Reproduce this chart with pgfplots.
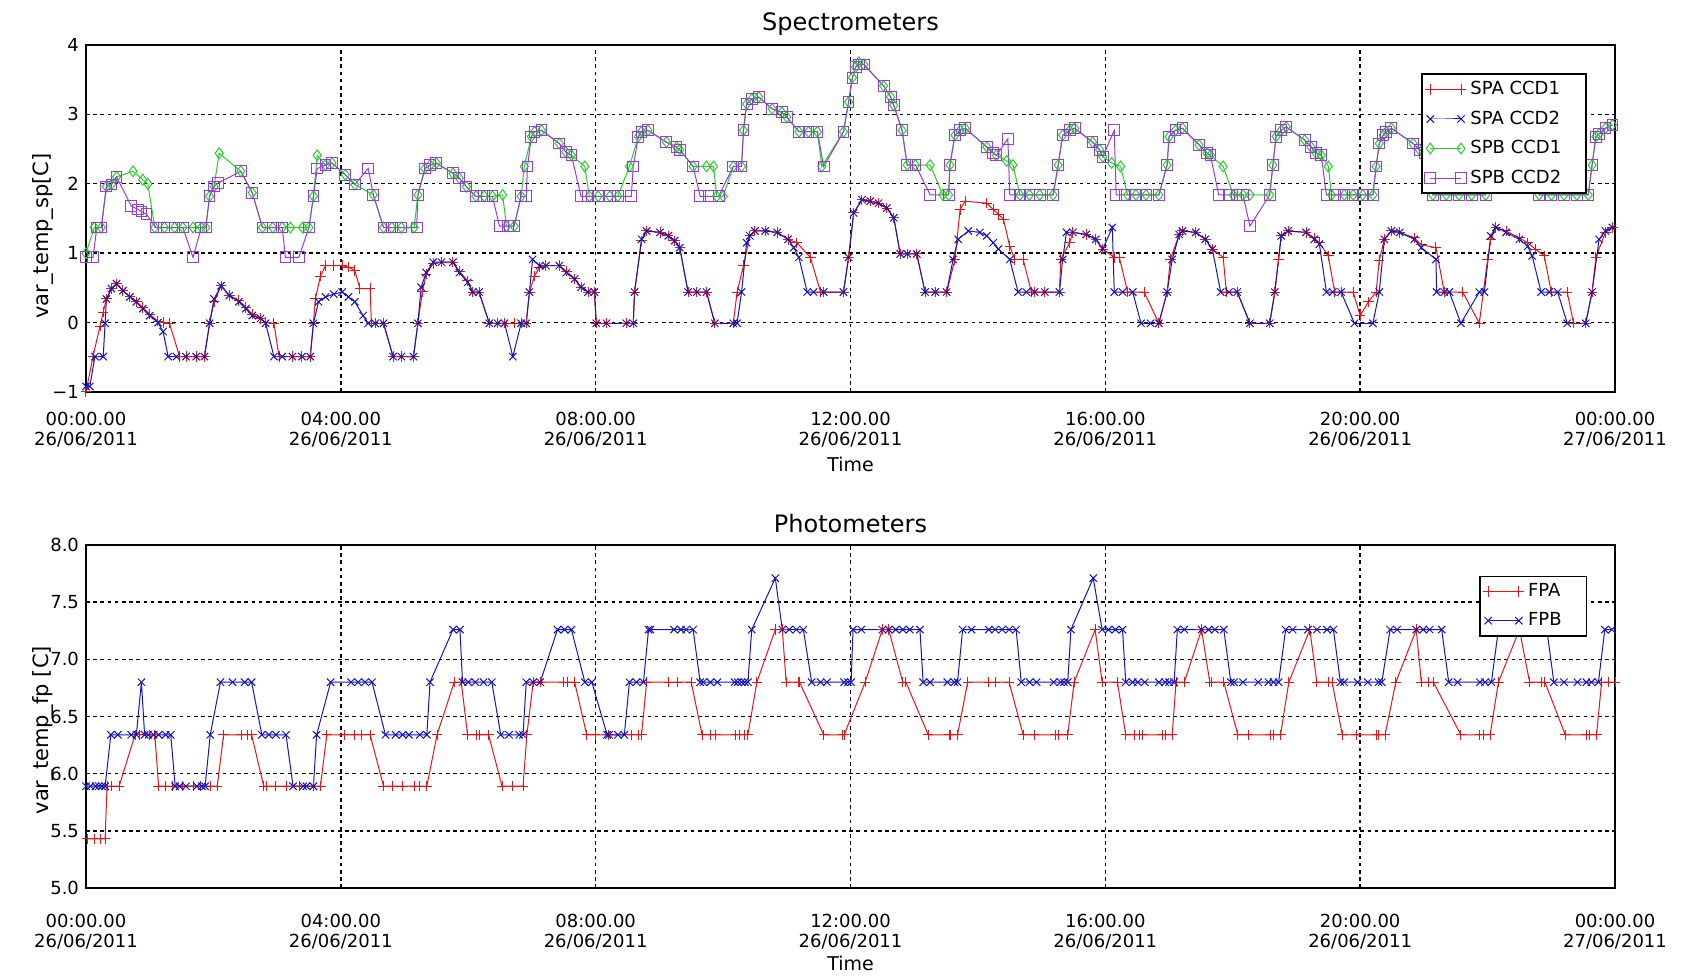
\documentclass[border=0pt]{standalone}
\usepackage{fontspec}
\setmainfont{DejaVu Sans}
\usepackage{pgfplots}
\pgfplotsset{compat=1.18}
\definecolor{cred}{RGB}{230,20,20}
\definecolor{cblue}{RGB}{20,20,185}
\definecolor{cgreen}{RGB}{40,205,40}
\definecolor{cpurple}{RGB}{150,60,215}
\newcommand{\pad}{\rule{9pt}{0pt}}
\pgfplotsset{
  myaxis/.style={
    scale only axis, width=764.5pt,
    xmin=0, xmax=24, xtick={0,4,8,12,16,20,24},
    xticklabels={{00:00.00\\26/06/2011},{04:00.00\\26/06/2011},{08:00.00\\26/06/2011},{12:00.00\\26/06/2011},{16:00.00\\26/06/2011},{20:00.00\\26/06/2011},{00:00.00\\27/06/2011}},
    xticklabel style={align=center, font=\fontsize{9}{10.2}\selectfont},
    yticklabel style={font=\fontsize{9}{10.5}\selectfont},
    /pgf/number format/assume math mode=true,
    xmajorgrids, ymajorgrids,
    grid style={black, line width=0.7pt, dash pattern=on 1.8pt off 1.8pt},
    major tick length=0pt,
    axis line style={line width=0.8pt},
    xlabel={Time},
    xlabel style={font=\fontsize{9.5}{11}\selectfont, anchor=center},
    ylabel style={font=\fontsize{10.5}{12}\selectfont, anchor=center},
    title style={font=\fontsize{12}{14}\selectfont, at={(axis description cs:0.5,1)}, anchor=center, yshift=4.5pt},
    legend cell align=left,
    legend image code/.code={\draw[mark repeat=2,mark phase=1,##1] plot coordinates {(0cm,0cm) (0.27cm,0cm) (0.54cm,0cm)};},
    legend style={draw=black, line width=0.8pt, fill=white, font=\fontsize{9}{10.5}\selectfont, inner sep=1.5pt, row sep=2.6pt, anchor=north east},
  },
}
\begin{document}
\begin{tikzpicture}
\useasboundingbox (0,0) rectangle (841.5pt,488pt);
\begin{axis}[myaxis, at={(43pt,292pt)}, anchor=south west, height=173.5pt,
  ymin=-1, ymax=4, ytick={-1,0,1,2,3,4}, yticklabels={−1,0,1,2,3,4},
  title={Spectrometers},
  ylabel={var\_temp\_sp[C]},
  ylabel style={at={(axis description cs:-0.0281,0.45)}},
  xlabel style={at={(axis description cs:0.5,-0.2075)}},
  xticklabel style={yshift=-6.5pt},
  legend style={at={(0.9817,0.918)}},
]
\addplot[cred, line width=0.5pt, mark=+, mark size=2.6pt] coordinates {
(0.00,-1.00)(0.11,-0.49)(0.22,-0.05)(0.27,0.15)(0.32,0.34)(0.40,0.49)(0.48,0.56)(0.58,0.46)(0.69,0.37)(0.79,0.30)(0.89,0.22)(1.00,0.12)(1.13,0.02)(1.21,0.00)(1.31,-0.01)(1.47,-0.49)(1.57,-0.49)(1.73,-0.49)(1.86,-0.49)(1.94,-0.01)(2.01,0.30)(2.12,0.53)(2.25,0.39)(2.40,0.32)(2.51,0.22)(2.61,0.12)(2.74,0.06)(2.82,0.00)(2.95,-0.01)(3.03,-0.49)(3.24,-0.49)(3.39,-0.49)(3.52,-0.49)(3.57,-0.01)(3.60,0.34)(3.68,0.67)(3.76,0.82)(3.89,0.82)(4.02,0.82)(4.12,0.80)(4.22,0.75)(4.30,0.49)(4.46,0.49)(4.48,-0.01)(4.54,-0.01)(4.67,-0.01)(4.82,-0.49)(4.95,-0.49)(5.14,-0.49)(5.21,-0.01)(5.28,0.45)(5.34,0.70)(5.45,0.85)(5.58,0.87)(5.76,0.87)(5.86,0.74)(5.99,0.60)(6.07,0.44)(6.17,0.44)(6.33,-0.01)(6.46,-0.01)(6.57,-0.01)(6.72,-0.01)(6.83,-0.01)(6.91,-0.01)(6.96,0.44)(7.04,0.67)(7.12,0.80)(7.22,0.82)(7.43,0.82)(7.54,0.74)(7.67,0.63)(7.77,0.51)(7.88,0.44)(7.98,0.44)(8.01,-0.01)(8.17,-0.01)(8.48,-0.01)(8.59,-0.01)(8.61,0.44)(8.72,1.18)(8.80,1.32)(9.01,1.30)(9.14,1.25)(9.24,1.18)(9.32,1.08)(9.45,0.44)(9.59,0.44)(9.74,0.44)(9.87,-0.01)(10.16,-0.01)(10.22,0.44)(10.32,0.82)(10.42,1.25)(10.50,1.32)(10.66,1.32)(10.85,1.30)(11.02,1.20)(11.16,1.15)(11.37,0.94)(11.53,0.44)(11.58,0.44)(11.89,0.44)(11.97,0.94)(12.05,1.58)(12.18,1.77)(12.31,1.75)(12.44,1.72)(12.57,1.65)(12.68,1.51)(12.78,0.99)(12.89,0.99)(13.04,0.99)(13.17,0.44)(13.33,0.44)(13.51,0.44)(13.64,0.91)(13.72,1.63)(13.80,1.75)(14.14,1.72)(14.24,1.63)(14.32,1.56)(14.40,1.49)(14.50,1.10)(14.58,0.91)(14.71,0.91)(14.84,0.44)(14.89,0.44)(15.05,0.44)(15.28,0.44)(15.30,0.91)(15.44,1.15)(15.49,1.30)(15.70,1.27)(15.85,1.20)(15.96,1.06)(16.14,0.94)(16.22,0.94)(16.35,0.44)(16.61,0.44)(16.84,-0.01)(16.97,0.44)(17.02,0.91)(17.16,1.27)(17.21,1.32)(17.42,1.30)(17.57,1.20)(17.68,1.06)(17.85,0.94)(17.90,0.44)(18.07,0.44)(18.27,-0.01)(18.58,-0.01)(18.66,0.44)(18.72,0.91)(18.76,1.25)(18.87,1.32)(19.15,1.30)(19.28,1.22)(19.36,1.15)(19.50,0.96)(19.60,0.44)(19.70,0.44)(19.89,0.44)(20.00,0.10)(20.13,0.30)(20.25,0.44)(20.30,0.90)(20.38,1.20)(20.49,1.32)(20.62,1.30)(20.85,1.22)(20.96,1.12)(21.19,1.08)(21.32,0.44)(21.61,0.44)(21.87,-0.01)(22.00,0.91)(22.05,1.20)(22.13,1.37)(22.29,1.32)(22.50,1.22)(22.63,1.15)(22.75,1.06)(22.89,0.96)(23.00,0.44)(23.25,0.44)(23.35,-0.01)(23.54,-0.01)(23.64,0.44)(23.70,0.94)(23.85,1.30)(23.96,1.37)
};
\addlegendentry{SPA CCD1\pad}
\addplot[cblue, line width=0.5pt, mark=x, mark size=2.6pt] coordinates {
(0.00,-0.92)(0.06,-0.92)(0.14,-0.49)(0.27,-0.49)(0.30,-0.01)(0.32,0.34)(0.40,0.49)(0.48,0.56)(0.58,0.46)(0.69,0.37)(0.79,0.30)(0.89,0.20)(1.00,0.10)(1.13,0.00)(1.21,-0.13)(1.29,-0.49)(1.42,-0.49)(1.57,-0.49)(1.73,-0.49)(1.86,-0.49)(1.94,-0.01)(2.01,0.34)(2.12,0.53)(2.25,0.39)(2.40,0.30)(2.51,0.20)(2.61,0.10)(2.74,0.06)(2.82,-0.01)(2.95,-0.49)(3.08,-0.49)(3.24,-0.49)(3.39,-0.49)(3.52,-0.49)(3.57,-0.01)(3.65,0.30)(3.76,0.37)(3.89,0.41)(4.02,0.44)(4.12,0.37)(4.22,0.30)(4.35,0.10)(4.43,-0.01)(4.54,-0.01)(4.67,-0.01)(4.82,-0.49)(4.95,-0.49)(5.14,-0.49)(5.21,-0.01)(5.26,0.51)(5.34,0.72)(5.45,0.87)(5.58,0.87)(5.76,0.87)(5.86,0.72)(5.99,0.58)(6.07,0.44)(6.17,0.44)(6.33,-0.01)(6.46,-0.01)(6.57,-0.01)(6.70,-0.49)(6.83,-0.01)(6.91,-0.01)(6.96,0.44)(7.01,0.91)(7.12,0.82)(7.22,0.82)(7.43,0.82)(7.54,0.72)(7.67,0.63)(7.77,0.51)(7.88,0.44)(7.98,0.44)(8.01,-0.01)(8.17,-0.01)(8.48,-0.01)(8.59,-0.01)(8.61,0.44)(8.72,1.20)(8.80,1.32)(9.01,1.30)(9.14,1.25)(9.24,1.18)(9.32,1.08)(9.45,0.44)(9.59,0.44)(9.74,0.44)(9.87,-0.01)(10.16,-0.01)(10.22,-0.01)(10.29,0.44)(10.37,1.15)(10.42,1.25)(10.50,1.32)(10.66,1.32)(10.85,1.30)(11.02,1.20)(11.11,1.08)(11.19,0.94)(11.32,0.44)(11.42,0.44)(11.58,0.44)(11.89,0.44)(11.97,0.94)(12.05,1.58)(12.18,1.77)(12.31,1.75)(12.44,1.72)(12.57,1.65)(12.68,1.51)(12.78,0.99)(12.89,0.99)(13.04,0.99)(13.17,0.44)(13.33,0.44)(13.51,0.44)(13.61,0.91)(13.69,1.20)(13.85,1.32)(14.03,1.30)(14.14,1.25)(14.24,1.15)(14.32,1.06)(14.50,0.91)(14.63,0.44)(14.76,0.44)(14.89,0.44)(15.05,0.44)(15.28,0.44)(15.33,0.91)(15.39,1.30)(15.49,1.30)(15.70,1.27)(15.85,1.20)(15.96,1.06)(16.11,1.37)(16.14,0.44)(16.27,0.44)(16.43,0.44)(16.56,-0.01)(16.71,-0.01)(16.84,-0.01)(16.97,0.44)(17.05,0.91)(17.16,1.27)(17.21,1.32)(17.42,1.30)(17.57,1.20)(17.68,1.06)(17.81,0.44)(17.94,0.44)(18.07,0.44)(18.27,-0.01)(18.58,-0.01)(18.66,0.44)(18.76,1.25)(18.87,1.32)(19.15,1.30)(19.28,1.20)(19.36,1.13)(19.47,0.44)(19.57,0.44)(19.70,0.44)(19.91,-0.01)(20.20,-0.01)(20.30,0.44)(20.38,1.20)(20.49,1.32)(20.62,1.30)(20.85,1.20)(20.96,1.08)(21.19,0.91)(21.20,0.44)(21.32,0.44)(21.40,0.44)(21.58,-0.01)(21.87,0.44)(21.95,0.44)(22.05,1.25)(22.13,1.37)(22.29,1.30)(22.50,1.20)(22.63,1.10)(22.70,0.96)(22.84,0.44)(22.97,0.44)(23.10,0.44)(23.25,-0.01)(23.54,-0.01)(23.64,0.44)(23.75,1.20)(23.85,1.32)(23.96,1.37)
};
\addlegendentry{SPA CCD2\pad}
\addplot[cgreen, line width=0.5pt, mark=diamond, mark size=2.7pt] coordinates {
(0.00,1.00)(0.13,1.37)(0.24,1.37)(0.32,1.96)(0.40,1.99)(0.48,2.10)(0.74,2.18)(0.89,2.06)(0.97,2.00)(1.08,1.37)(1.23,1.37)(1.39,1.37)(1.52,1.37)(1.68,1.37)(1.81,1.37)(1.88,1.37)(1.94,1.82)(2.01,1.96)(2.09,2.44)(2.43,2.18)(2.61,1.87)(2.77,1.37)(2.93,1.37)(3.08,1.37)(3.21,1.37)(3.40,1.37)(3.50,1.37)(3.57,1.82)(3.63,2.41)(3.76,2.27)(3.86,2.30)(4.07,2.13)(4.22,1.99)(4.51,1.84)(4.67,1.37)(4.80,1.37)(4.95,1.37)(5.15,1.37)(5.21,1.84)(5.32,2.22)(5.40,2.27)(5.50,2.30)(5.76,2.15)(5.86,2.08)(5.97,1.96)(6.12,1.82)(6.25,1.82)(6.38,1.82)(6.54,1.84)(6.60,1.39)(6.72,1.39)(6.83,1.82)(6.88,2.25)(6.99,2.68)(7.04,2.75)(7.15,2.77)(7.43,2.58)(7.53,2.46)(7.62,2.41)(7.83,2.25)(7.90,1.82)(8.04,1.82)(8.22,1.82)(8.35,1.82)(8.53,2.25)(8.67,2.68)(8.72,2.75)(8.82,2.77)(9.11,2.60)(9.27,2.53)(9.32,2.49)(9.53,2.25)(9.74,2.25)(9.85,2.25)(9.90,1.82)(10.00,1.82)(10.16,2.25)(10.29,2.25)(10.32,2.77)(10.37,3.15)(10.45,3.22)(10.56,3.25)(10.77,3.08)(10.92,3.03)(11.00,2.96)(11.19,2.75)(11.34,2.75)(11.48,2.75)(11.55,2.25)(11.89,2.75)(11.97,3.18)(12.03,3.53)(12.08,3.68)(12.13,3.75)(12.21,3.72)(12.52,3.41)(12.63,3.25)(12.68,3.13)(12.81,2.77)(12.89,2.27)(13.02,2.27)(13.25,2.27)(13.45,1.84)(13.54,1.84)(13.56,2.27)(13.64,2.70)(13.72,2.77)(13.80,2.80)(14.14,2.53)(14.29,2.41)(14.45,2.33)(14.55,2.27)(14.66,1.84)(14.81,1.84)(14.97,1.84)(15.18,1.84)(15.26,2.27)(15.33,2.70)(15.44,2.77)(15.52,2.80)(15.80,2.60)(15.91,2.49)(15.96,2.39)(16.10,2.30)(16.24,2.25)(16.35,1.84)(16.48,1.84)(16.64,1.84)(16.84,1.84)(16.97,2.27)(17.00,2.68)(17.10,2.77)(17.21,2.80)(17.47,2.56)(17.60,2.44)(17.65,2.41)(17.85,2.25)(18.01,1.84)(18.16,1.84)(18.27,1.84)(18.58,1.84)(18.63,2.27)(18.68,2.68)(18.76,2.77)(18.84,2.82)(19.13,2.63)(19.23,2.53)(19.31,2.44)(19.39,2.41)(19.50,2.25)(19.55,1.84)(19.75,1.84)(19.89,1.84)(20.04,1.84)(20.20,1.84)(20.25,2.25)(20.30,2.58)(20.36,2.70)(20.41,2.75)(20.49,2.80)(20.83,2.58)(20.93,2.49)(21.01,2.44)(21.14,1.84)(21.35,1.84)(21.55,1.84)(21.75,1.84)(21.97,1.84)(22.03,2.27)(22.10,2.68)(22.18,2.77)(22.28,2.80)(22.55,2.58)(22.68,2.44)(22.81,1.84)(23.00,1.84)(23.20,1.84)(23.40,1.84)(23.58,1.84)(23.64,2.27)(23.70,2.68)(23.75,2.72)(23.85,2.80)(23.96,2.85)
};
\addlegendentry{SPB CCD1\pad}
\addplot[cpurple, line width=0.5pt, mark=square, mark size=2.7pt] coordinates {
(0.00,0.94)(0.11,0.94)(0.17,1.37)(0.24,1.37)(0.32,1.96)(0.40,1.99)(0.48,2.10)(0.71,1.68)(0.82,1.63)(0.87,1.60)(0.95,1.56)(1.10,1.37)(1.23,1.37)(1.39,1.37)(1.52,1.37)(1.68,0.94)(1.81,1.37)(1.88,1.37)(1.94,1.82)(2.01,1.96)(2.07,2.01)(2.43,2.18)(2.61,1.87)(2.77,1.37)(2.93,1.37)(3.08,1.37)(3.13,0.94)(3.34,0.94)(3.50,1.37)(3.57,1.82)(3.63,2.22)(3.76,2.27)(3.86,2.30)(4.07,2.13)(4.22,1.99)(4.43,2.22)(4.51,1.84)(4.67,1.37)(4.80,1.37)(4.95,1.37)(5.19,1.37)(5.21,1.84)(5.32,2.22)(5.40,2.27)(5.50,2.30)(5.76,2.15)(5.86,2.08)(5.97,1.96)(6.12,1.82)(6.25,1.82)(6.38,1.82)(6.49,1.39)(6.62,1.39)(6.72,1.39)(6.83,1.82)(6.91,1.82)(6.93,2.25)(6.99,2.68)(7.04,2.75)(7.15,2.77)(7.43,2.58)(7.53,2.46)(7.62,2.41)(7.77,1.82)(7.88,1.82)(8.04,1.82)(8.22,1.82)(8.35,1.82)(8.56,1.82)(8.59,2.25)(8.67,2.68)(8.72,2.75)(8.82,2.77)(9.11,2.60)(9.27,2.53)(9.32,2.49)(9.53,2.25)(9.64,1.82)(9.77,1.82)(9.93,1.82)(10.16,2.25)(10.29,2.25)(10.32,2.77)(10.37,3.15)(10.45,3.22)(10.56,3.25)(10.77,3.08)(10.92,3.03)(11.00,2.96)(11.19,2.75)(11.34,2.75)(11.48,2.75)(11.58,2.25)(11.89,2.75)(11.97,3.18)(12.03,3.53)(12.08,3.68)(12.13,3.72)(12.21,3.72)(12.52,3.41)(12.63,3.25)(12.68,3.13)(12.81,2.77)(12.89,2.27)(13.02,2.27)(13.25,1.84)(13.54,1.84)(13.56,2.27)(13.64,2.70)(13.72,2.77)(13.80,2.80)(14.14,2.53)(14.24,2.44)(14.29,2.41)(14.47,2.65)(14.50,1.84)(14.66,1.84)(14.81,1.84)(14.97,1.84)(15.18,1.84)(15.26,2.27)(15.33,2.70)(15.44,2.77)(15.52,2.80)(15.80,2.60)(15.91,2.49)(15.96,2.39)(16.14,2.77)(16.17,1.84)(16.30,1.84)(16.48,1.84)(16.64,1.84)(16.84,1.84)(16.97,2.27)(17.00,2.68)(17.10,2.77)(17.21,2.80)(17.47,2.56)(17.60,2.44)(17.65,2.41)(17.78,1.84)(17.94,1.84)(18.06,1.84)(18.16,1.84)(18.27,1.39)(18.58,1.84)(18.63,2.27)(18.68,2.68)(18.76,2.77)(18.84,2.82)(19.13,2.63)(19.23,2.53)(19.31,2.44)(19.39,2.41)(19.47,1.84)(19.60,1.84)(19.75,1.84)(19.89,1.84)(20.04,1.84)(20.20,1.84)(20.25,2.25)(20.30,2.58)(20.36,2.70)(20.41,2.75)(20.49,2.80)(20.83,2.58)(20.93,2.49)(21.01,2.44)(21.14,1.84)(21.35,1.84)(21.55,1.84)(21.75,1.84)(21.97,1.84)(22.03,2.27)(22.10,2.68)(22.18,2.77)(22.28,2.80)(22.55,2.58)(22.68,2.44)(22.81,1.84)(23.00,1.84)(23.20,1.84)(23.40,1.84)(23.58,1.84)(23.64,2.27)(23.70,2.68)(23.75,2.72)(23.85,2.80)(23.96,2.85)
};
\addlegendentry{SPB CCD2\pad}
\end{axis}
\begin{axis}[myaxis, at={(43pt,44pt)}, anchor=south west, height=171.5pt,
  ymin=5, ymax=8, ytick={5,5.5,6,6.5,7,7.5,8}, yticklabels={5.0,5.5,6.0,6.5,7.0,7.5,8.0},
  title={Photometers},
  ylabel={var\_temp\_fp [C]},
  ylabel style={at={(axis description cs:-0.0281,0.46)}},
  xlabel style={at={(axis description cs:0.5,-0.22)}},
  xticklabel style={yshift=-9.5pt},
  legend style={at={(0.982,0.911)}},
]
\addplot[cred, line width=0.5pt, mark=+, mark size=2.6pt] coordinates {
(0.02,5.43)(0.14,5.43)(0.22,5.43)(0.30,5.43)(0.33,5.89)(0.40,5.89)(0.52,5.89)(0.77,6.34)(0.84,6.34)(0.99,6.34)(1.08,6.34)(1.14,5.89)(1.25,5.89)(1.36,5.89)(1.52,5.89)(1.68,5.89)(1.79,5.89)(1.95,5.89)(2.06,5.89)(2.16,6.34)(2.44,6.34)(2.54,6.34)(2.60,6.34)(2.79,5.89)(2.84,5.89)(2.98,5.89)(3.14,5.89)(3.35,5.89)(3.57,5.89)(3.68,5.89)(3.78,6.34)(4.05,6.34)(4.22,6.34)(4.32,6.34)(4.46,6.34)(4.67,5.89)(4.81,5.89)(4.97,5.89)(5.16,5.89)(5.24,5.89)(5.35,5.89)(5.51,6.34)(5.78,6.80)(5.89,6.80)(5.99,6.34)(6.13,6.34)(6.18,6.34)(6.32,6.34)(6.53,5.89)(6.70,5.89)(6.86,5.89)(6.92,6.34)(7.02,6.80)(7.13,6.80)(7.50,6.80)(7.56,6.80)(7.67,6.80)(7.86,6.34)(7.99,6.34)(8.20,6.34)(8.56,6.34)(8.67,6.34)(8.72,6.34)(8.80,6.80)(9.15,6.80)(9.29,6.80)(9.50,6.80)(9.67,6.34)(9.80,6.34)(9.88,6.34)(10.20,6.34)(10.26,6.34)(10.34,6.34)(10.39,6.34)(10.53,6.80)(10.82,7.26)(10.93,7.26)(10.99,6.80)(11.18,6.80)(11.20,6.80)(11.58,6.34)(11.88,6.34)(11.90,6.34)(12.23,6.80)(12.50,7.26)(12.60,7.26)(12.82,6.80)(12.87,6.80)(13.22,6.34)(13.55,6.34)(13.57,6.34)(13.68,6.34)(13.84,6.80)(14.17,6.80)(14.27,6.80)(14.49,6.80)(14.71,6.34)(14.89,6.34)(15.22,6.34)(15.27,6.34)(15.41,6.34)(15.51,6.80)(15.84,7.26)(15.95,6.80)(16.19,6.80)(16.32,6.34)(16.46,6.34)(16.54,6.34)(16.59,6.34)(16.89,6.34)(16.94,6.34)(17.05,6.34)(17.11,6.80)(17.24,6.80)(17.51,7.26)(17.64,6.80)(17.67,6.80)(17.86,6.80)(18.08,6.34)(18.24,6.34)(18.59,6.34)(18.64,6.34)(18.75,6.34)(18.88,6.80)(19.21,7.26)(19.32,6.80)(19.50,6.80)(19.56,6.80)(19.72,6.34)(19.94,6.34)(20.26,6.34)(20.29,6.34)(20.39,6.34)(20.56,6.80)(20.88,7.26)(20.96,6.80)(21.07,6.80)(21.15,6.80)(21.58,6.34)(21.88,6.34)(21.93,6.34)(22.04,6.34)(22.17,6.80)(22.50,7.26)(22.66,6.80)(22.85,6.80)(22.90,6.80)(23.22,6.34)(23.55,6.34)(23.60,6.34)(23.71,6.34)(23.79,6.80)(23.90,6.80)(24.00,6.80)
};
\addlegendentry{FPA\pad}
\addplot[cblue, line width=0.5pt, mark=x, mark size=2.6pt] coordinates {
(0.00,5.89)(0.07,5.89)(0.15,5.89)(0.20,5.89)(0.25,5.89)(0.30,5.89)(0.39,6.34)(0.50,6.34)(0.71,6.34)(0.79,6.34)(0.87,6.80)(0.92,6.34)(0.98,6.34)(1.06,6.34)(1.14,6.34)(1.25,6.34)(1.33,6.34)(1.40,5.89)(1.47,5.89)(1.57,5.89)(1.74,5.89)(1.82,5.89)(1.87,5.89)(1.95,6.34)(2.11,6.80)(2.30,6.80)(2.49,6.80)(2.60,6.80)(2.76,6.34)(2.87,6.34)(2.98,6.34)(3.14,6.34)(3.25,5.89)(3.41,5.89)(3.46,5.89)(3.57,5.89)(3.62,6.34)(3.84,6.80)(4.16,6.80)(4.27,6.80)(4.38,6.80)(4.49,6.80)(4.70,6.34)(4.86,6.34)(4.97,6.34)(5.07,6.34)(5.24,6.34)(5.35,6.34)(5.40,6.80)(5.76,7.26)(5.87,7.26)(5.91,6.80)(6.00,6.80)(6.11,6.80)(6.24,6.80)(6.37,6.80)(6.51,6.34)(6.64,6.34)(6.80,6.34)(6.86,6.34)(6.91,6.80)(7.02,6.80)(7.13,6.80)(7.40,7.26)(7.51,7.26)(7.62,7.26)(7.83,6.80)(7.94,6.80)(8.18,6.34)(8.21,6.34)(8.35,6.34)(8.45,6.34)(8.53,6.80)(8.64,6.80)(8.75,6.80)(8.83,7.26)(8.86,7.26)(9.23,7.26)(9.34,7.26)(9.42,7.26)(9.53,7.26)(9.64,6.80)(9.69,6.80)(9.80,6.80)(9.91,6.80)(10.18,6.80)(10.23,6.80)(10.29,6.80)(10.34,6.80)(10.39,6.80)(10.45,7.26)(10.82,7.71)(10.93,7.26)(11.04,7.26)(11.15,7.26)(11.26,7.26)(11.39,6.80)(11.53,6.80)(11.63,6.80)(11.90,6.80)(11.96,6.80)(12.01,6.80)(12.04,7.26)(12.17,7.26)(12.50,7.26)(12.60,7.26)(12.71,7.26)(12.82,7.26)(12.93,7.26)(13.09,7.26)(13.14,6.80)(13.25,6.80)(13.52,6.80)(13.63,6.80)(13.68,6.80)(13.76,7.26)(13.90,7.26)(14.17,7.26)(14.27,7.26)(14.38,7.26)(14.49,7.26)(14.60,7.26)(14.68,6.80)(14.81,6.80)(14.92,6.80)(15.19,6.80)(15.30,6.80)(15.35,6.80)(15.41,6.80)(15.46,7.26)(15.81,7.71)(15.95,7.26)(16.05,7.26)(16.16,7.26)(16.27,7.26)(16.32,6.80)(16.43,6.80)(16.51,6.80)(16.62,6.80)(16.84,6.80)(16.94,6.80)(17.00,6.80)(17.08,6.80)(17.13,7.26)(17.24,7.26)(17.51,7.26)(17.62,7.26)(17.72,7.26)(17.86,7.26)(17.97,6.80)(18.02,6.80)(18.16,6.80)(18.40,6.80)(18.56,6.80)(18.64,6.80)(18.72,6.80)(18.83,7.26)(18.94,7.26)(19.18,7.26)(19.32,7.26)(19.48,7.26)(19.58,7.26)(19.69,6.80)(19.75,6.80)(19.96,6.80)(20.12,6.80)(20.29,6.80)(20.34,6.80)(20.47,7.26)(20.58,7.26)(20.88,7.26)(20.99,7.26)(21.09,7.26)(21.28,7.26)(21.39,6.80)(21.53,6.80)(21.88,6.80)(21.96,6.80)(22.06,6.80)(22.17,7.26)(22.33,7.26)(22.50,7.26)(22.71,7.26)(22.93,7.26)(23.04,6.80)(23.20,6.80)(23.41,6.80)(23.55,6.80)(23.63,6.80)(23.74,6.80)(23.84,7.26)(23.95,7.26)
};
\addlegendentry{FPB\pad}
\end{axis}
\end{tikzpicture}
\end{document}
